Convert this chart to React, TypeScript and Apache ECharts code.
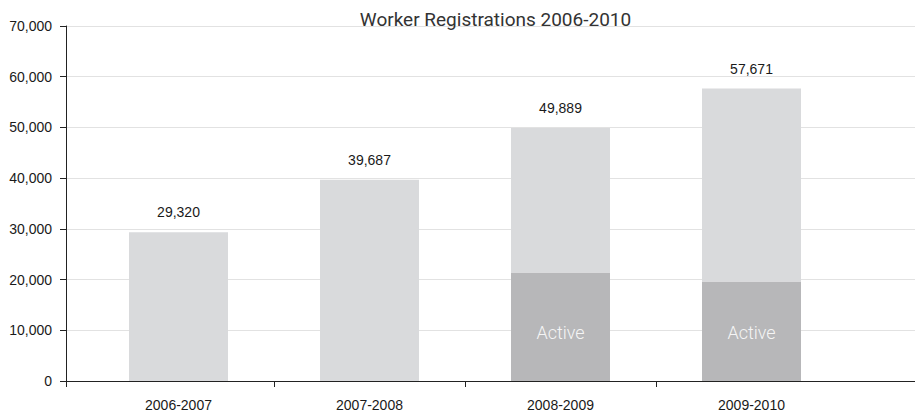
import React, { useEffect, useRef } from "react";
import * as echarts from "echarts";

const categories = ["2006-2007", "2007-2008", "2008-2009", "2009-2010"];
const totals = [29320, 39687, 49889, 57671];
const active = [null, null, 21400, 19600];
const yMin = 0;
const yMax = 70000;
const yInterval = 10000;
const titleText = "Worker Registrations 2006-2010";
const activeLabel = "Active";

const GRID_TOP = 26;
const GRID_BOTTOM = 35;
const FRAME_LEFT = 66;
const BAR_LEFT = 83;
const BAR_RIGHT = 68;
const BAND = (915 - BAR_LEFT - BAR_RIGHT) / categories.length;

export default function App() {
  const ref = useRef<HTMLDivElement>(null);
  useEffect(() => {
    if (!ref.current) return;
    const chart = echarts.init(ref.current, null, { renderer: "svg" });
    const rest = totals.map((t, i) => t - (active[i] ?? 0));
    // frame x axis expressed in category units
    const fMin = -0.5 - (BAR_LEFT - FRAME_LEFT) / BAND;
    const fMax = categories.length - 0.5 + BAR_RIGHT / BAND;
    const tickVals = [fMin, ...categories.slice(1).map((_, i) => i + 0.5)];
    const axisFont = { fontFamily: "Liberation Sans, Arial, sans-serif", fontSize: 14, color: "#1a1a1a" };
    chart.setOption({
      animation: false,
      title: {
        text: titleText,
        left: FRAME_LEFT + (915 - FRAME_LEFT) / 2,
        textAlign: "center",
        top: 5,
        textStyle: { fontFamily: "Roboto", fontSize: 19, fontWeight: "normal", color: "#333" },
      },
      grid: [
        { left: FRAME_LEFT, right: 0, top: GRID_TOP, bottom: GRID_BOTTOM },
        { left: BAR_LEFT, right: BAR_RIGHT, top: GRID_TOP, bottom: GRID_BOTTOM },
      ],
      xAxis: [
        {
          gridIndex: 0,
          type: "value",
          min: fMin,
          max: fMax,
          axisLine: { show: true, onZero: false, lineStyle: { color: "#222", width: 1 } },
          axisTick: {
            show: true,
            customValues: tickVals,
            length: 6,
            lineStyle: { color: "#222" },
          },
          axisLabel: { show: false },
          splitLine: { show: false },
        },
        {
          gridIndex: 1,
          type: "category",
          data: categories,
          axisLine: { show: false },
          axisTick: { show: false },
          axisLabel: { ...axisFont, margin: 17 },
        },
      ],
      yAxis: [
        {
          gridIndex: 0,
          type: "value",
          min: yMin,
          max: yMax,
          interval: yInterval,
          axisLine: { show: true, onZero: false, lineStyle: { color: "#222", width: 1 } },
          axisTick: { show: true, length: 6, lineStyle: { color: "#222" } },
          axisLabel: {
            ...axisFont,
            margin: 14,
            formatter: (v: number) => v.toLocaleString("en-US"),
          },
          splitLine: { show: true, lineStyle: { color: "#e2e2e2", width: 1 } },
        },
        {
          gridIndex: 1,
          type: "value",
          min: yMin,
          max: yMax,
          show: false,
          splitLine: { show: false },
        },
      ],
      series: [
        {
          name: "Active",
          type: "bar",
          xAxisIndex: 1,
          yAxisIndex: 1,
          stack: "total",
          barWidth: 99,
          data: active,
          itemStyle: { color: "#b7b7b9" },
          label: {
            show: true,
            position: "insideBottom",
            distance: 40,
            formatter: activeLabel,
            color: "#f5f5f5",
            fontFamily: "Roboto",
            fontWeight: 300,
            fontSize: 18,
          },
        },
        {
          name: "Registered",
          type: "bar",
          xAxisIndex: 1,
          yAxisIndex: 1,
          stack: "total",
          barWidth: 99,
          data: rest,
          itemStyle: { color: "#d9dadc" },
          label: {
            show: true,
            position: "top",
            distance: 13,
            formatter: (p: any) => totals[p.dataIndex].toLocaleString("en-US"),
            ...axisFont,
          },
        },
      ],
    });
    return () => chart.dispose();
  }, []);
  return (
    <div
      ref={ref}
      style={{ position: "fixed", left: 0, top: 0, width: 915, height: 416, background: "#fff" }}
    />
  );
}
